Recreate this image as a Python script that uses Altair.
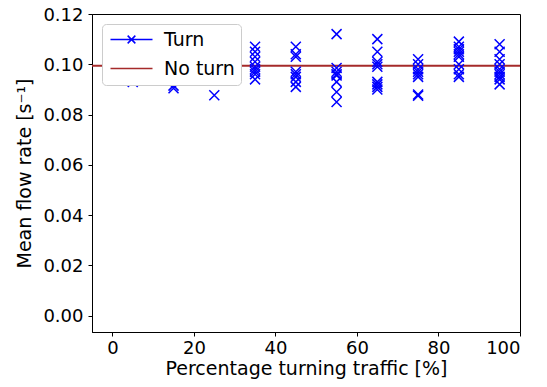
import altair as alt
import pandas as pd

# Turn series: percentage turning traffic and mean flow rate
turn_x = (
    [5, 5, 5]
    + [15, 15, 15]
    + [25]
    + [35] * 9
    + [45] * 8
    + [55] * 8
    + [65] * 9
    + [75] * 8
    + [85] * 10
    + [95] * 10
)
turn_y = (
    [0.093, 0.096, 0.100]
    + [0.0915, 0.0905, 0.094]
    + [0.0877]
    + [0.107, 0.105, 0.103, 0.101, 0.099, 0.098, 0.097, 0.096, 0.094]
    + [0.107, 0.104, 0.103, 0.097, 0.096, 0.095, 0.093, 0.091]
    + [0.112, 0.0985, 0.097, 0.096, 0.0955, 0.093, 0.089, 0.085]
    + [0.110, 0.105, 0.101, 0.100, 0.099, 0.093, 0.092, 0.091, 0.090]
    + [0.102, 0.100, 0.098, 0.097, 0.096, 0.095, 0.088, 0.0875]
    + [0.109, 0.107, 0.106, 0.105, 0.104, 0.103, 0.100, 0.098, 0.096, 0.095]
    + [0.108, 0.105, 0.102, 0.100, 0.098, 0.097, 0.096, 0.095, 0.094, 0.092]
)
no_turn_value = [0.0994]

series_names = ["Turn", "No turn"]
series_colors = ["blue", "#a52a2a"]
x_ticks = [0, 20, 40, 60, 80, 100]
y_ticks = [0.0, 0.02, 0.04, 0.06, 0.08, 0.10, 0.12]

turn_df = pd.DataFrame({"x": turn_x, "y": turn_y, "series": "Turn"})
noturn_df = pd.DataFrame({"y": no_turn_value, "series": "No turn"})

FONT = "DejaVu Sans"

turn_path = "M-3,0H3M-0.55,-0.55L0.55,0.55M-0.55,0.55L0.55,-0.55"
line_path = "M-3,0H3"

color_scale = alt.Scale(domain=series_names, range=series_colors)
legend = alt.Legend(
    title=None,
    orient="top-left",
    offset=10,
    fillColor="white",
    strokeColor="#cccccc",
    cornerRadius=4,
    padding=6,
    labelFontSize=19,
    labelFont=FONT,
    labelColor="black",
    symbolSize=196,
    symbolStrokeWidth=1.5,
    symbolOffset=14,
    labelOffset=23,
    rowPadding=9,
    symbolType=alt.ExprRef(
        expr=f"datum.value === 'Turn' ? '{turn_path}' : '{line_path}'"
    ),
)

x_scale = alt.Scale(domain=[-5, 100], nice=False, zero=False)
y_scale = alt.Scale(domain=[-0.0065, 0.12], nice=False, zero=False)

x_axis = alt.Axis(
    values=x_ticks,
    title="Percentage turning traffic [%]",
    grid=False,
    format="d",
)
y_axis = alt.Axis(
    values=y_ticks,
    title="Mean flow rate [s⁻¹]",
    grid=False,
    format=".2f",
    labelOffset=1,
)

points = (
    alt.Chart(turn_df)
    .mark_point(
        shape="M-1,-1L1,1M-1,1L1,-1",
        filled=False,
        size=100,
        strokeWidth=1.5,
        opacity=1,
    )
    .encode(
        x=alt.X("x:Q", scale=x_scale, axis=x_axis),
        y=alt.Y("y:Q", scale=y_scale, axis=y_axis),
        color=alt.Color("series:N", scale=color_scale, legend=legend),
    )
)

rule = (
    alt.Chart(noturn_df)
    .mark_rule(strokeWidth=2)
    .encode(
        y=alt.Y("y:Q", scale=y_scale),
        color=alt.Color("series:N", scale=color_scale, legend=legend),
    )
)

chart = (
    alt.layer(rule, points)
    .properties(
        width=428,
        height=318,
        autosize=alt.AutoSizeParams(type="none"),
        padding={"left": 84, "top": 6, "right": 19, "bottom": 47},
    )
    .configure_view(stroke="black", strokeWidth=1)
    .configure_axis(
        domainColor="black",
        tickColor="black",
        tickSize=4,
        tickWidth=1,
        labelFont=FONT,
        titleFont=FONT,
        labelFontSize=18,
        titleFontSize=19,
        labelColor="black",
        titleColor="black",
        titleFontWeight="normal",
        labelPadding=5,
    )
    .configure_axisY(titlePadding=8)
    .configure_axisX(titlePadding=2, labelPadding=3)
)

chart.save("out.html", embed_options={"renderer": "svg", "actions": False})
